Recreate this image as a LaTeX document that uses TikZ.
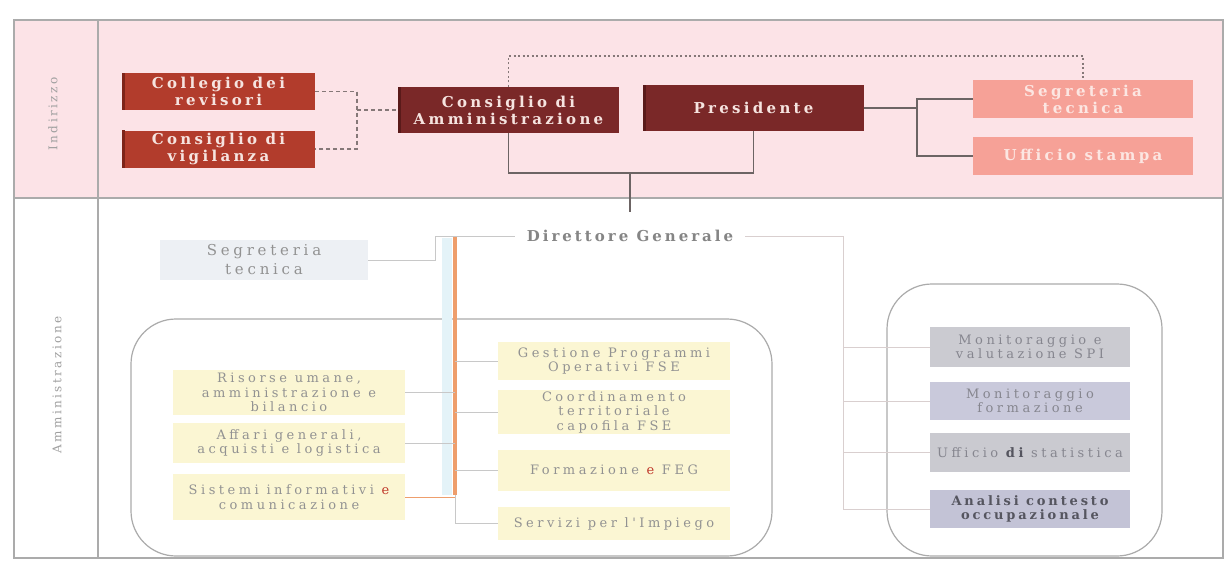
\documentclass[tikz,border=0pt]{standalone}
\usepackage{fontspec}
\setmainfont{DejaVu Serif}
\newfontfamily\wsp[LetterSpace=27]{DejaVu Serif}
\newfontfamily\wlab[LetterSpace=20]{DejaVu Serif}
\newfontfamily\wseg[LetterSpace=25]{DejaVu Serif}
\newfontfamily\wspb[LetterSpace=22]{DejaVu Serif}
\newfontfamily\wspd[LetterSpace=20]{DejaVu Serif}
\usetikzlibrary{calc}
\definecolor{cBand}{HTML}{FCE3E7}
\definecolor{cFrame}{HTML}{ABABAB}
\definecolor{cRust}{HTML}{B23C2C}
\definecolor{cRustEdge}{HTML}{7E2419}
\definecolor{cMaroon}{HTML}{7A2828}
\definecolor{cMaroonEdge}{HTML}{5A1A1A}
\definecolor{cSalmon}{HTML}{F6A197}
\definecolor{cTopTxt}{HTML}{F6E4E0}
\definecolor{cSalTxt}{HTML}{FCE6E2}
\definecolor{cLab}{HTML}{A0A0A0}
\definecolor{cBotTxt}{HTML}{929292}
\definecolor{cYellow}{HTML}{FBF6D3}
\definecolor{cSegB}{HTML}{EDF0F4}
\definecolor{cGrayA}{HTML}{CBCBD1}
\definecolor{cGrayB}{HTML}{C9C9DB}
\definecolor{cGrayC}{HTML}{CACAD0}
\definecolor{cGrayD}{HTML}{C3C3D6}
\definecolor{cRTxt}{HTML}{86868F}
\definecolor{cDark}{HTML}{55555F}
\definecolor{cRed}{HTML}{C0392B}
\definecolor{cOrange}{HTML}{EE9E6C}
\definecolor{cCyan}{HTML}{E4F3F8}
\definecolor{cLine}{HTML}{6C6464}
\definecolor{cLineB}{HTML}{857878}
\definecolor{cBot}{HTML}{C8C8C8}
\definecolor{cRline}{HTML}{D9CFCF}
\definecolor{cDirTxt}{HTML}{858585}
\begin{document}
\begin{tikzpicture}[x=1pt,y=-1pt,
  lab/.style={font=\wlab\fontsize{12}{14}\selectfont, text=cLab, rotate=90, inner sep=0pt},
  topbox/.style={text=cTopTxt, font=\wspb\bfseries\fontsize{15}{17}\selectfont, inner sep=0pt, align=center},
  rustbox/.style={topbox, fill=cRust, minimum width=193pt, minimum height=37pt},
  maroonbox/.style={topbox, fill=cMaroon, minimum width=220pt, minimum height=46pt},
  salbox/.style={topbox, fill=cSalmon, text=cSalTxt, minimum width=220pt, minimum height=38pt},
  botbox/.style={font=\wsp\fontsize{13}{14.5}\selectfont, text=cBotTxt, inner sep=0pt, align=center},
  yelbox/.style={botbox, fill=cYellow, minimum width=232pt},
  graybox/.style={botbox, text=cRTxt, minimum width=200pt},
  group/.style={draw=cFrame, line width=1.2pt, rounded corners=45pt},
  topline/.style={draw=cLine, line width=1.2pt},
  dashl/.style={draw=cLineB, line width=1.1pt, dash pattern=on 4pt off 3pt},
  dotl/.style={draw=cLineB, line width=1.3pt, dash pattern=on 2pt off 2.5pt},
  botline/.style={draw=cBot, line width=1pt},
  rline/.style={draw=cRline, line width=1pt},
  orline/.style={draw=cOrange, line width=1pt},
  orangebar/.style={draw=cOrange, line width=4pt}
]
\useasboundingbox (0,0) rectangle (1230,562);
\fill[white] (0,0) rectangle (1230,562);
\fill[cBand] (14,20) rectangle (1223,198);
\draw[cFrame, line width=1.2pt] (14,20) rectangle (1223,558);
\draw[cFrame, line width=1.2pt] (14,198) -- (1223,198);
\draw[cFrame, line width=1.2pt] (98,20) -- (98,558);

\node[lab] (lind) at (53,114) {Indirizzo};
\node[lab] (lamm) at (57,385) {Amministrazione};

% groups
\node[group, minimum width=641pt, minimum height=237pt] (grpL) at (451.5,437.5) {};
\node[group, minimum width=275pt, minimum height=272pt] (grpR) at (1024.5,420) {};

% top boxes
\node[rustbox] (coll) at (218.5,91.5) {Collegio dei\\revisori};
\node[rustbox] (vig) at (218.5,149) {Consiglio di\\vigilanza};
\node[maroonbox] (cons) at (508.5,110) {Consiglio di\\Amministrazione};
\node[maroonbox] (pres) at (753.5,108) {Presidente};
\node[salbox] (segtop) at (1083,99) {Segreteria\\tecnica};
\node[salbox] (uff) at (1083,156) {Ufficio stampa};
\fill[cRustEdge] (coll.north west) rectangle ([xshift=3pt]coll.south west);
\fill[cRustEdge] (vig.north west) rectangle ([xshift=3pt]vig.south west);
\fill[cMaroonEdge] (cons.north west) rectangle ([xshift=3pt]cons.south west);
\fill[cMaroonEdge] (pres.north west) rectangle ([xshift=3pt]pres.south west);

\coordinate (dj) at (357,110);
\coordinate (dtop) at (800,56);
\coordinate (jn) at (630,173);
\coordinate (jd) at (630,212);
\coordinate (pj) at (917,108);
\draw[dashl] (coll.east) -| (dj) |- (vig.east);
\draw[dashl] (dj) -- (cons.west);
\draw[dotl] (cons.north) |- (dtop) -| (segtop.north);
\draw[topline] (cons.south) |- (jn) -| (pres.south);
\draw[topline] (jn) -- (jd);
\draw[topline] (pres.east) -- (pj);
\draw[topline] (pj) |- (segtop.west);
\draw[topline] (pj) |- (uff.west);

% bottom
\fill[cCyan] (442,238) rectangle (452,495);
\node[botbox, fill=cSegB, minimum width=208pt, minimum height=40pt, font=\wseg\fontsize{15}{19}\selectfont] (segb) at (264,260) {Segreteria\\tecnica};
\node[font=\wspd\bfseries\fontsize{15}{17}\selectfont, text=cDirTxt, inner sep=12pt] (dir) at (630,236) {Direttore Generale};

\node[yelbox, minimum height=45pt] (ly1) at (289,392.5) {Risorse umane,\\amministrazione e\\bilancio};
\node[yelbox, minimum height=40pt] (ly2) at (289,443) {Affari generali,\\acquisti e logistica};
\node[yelbox, minimum height=46pt] (ly3) at (289,497) {Sistemi informativi \textcolor{cRed}{e}\\comunicazione};

\node[yelbox, minimum height=38pt] (my1) at (614,361) {Gestione Programmi\\Operativi FSE};
\node[yelbox, minimum height=44pt] (my2) at (614,412) {Coordinamento\\territoriale\\capofila FSE};
\node[yelbox, minimum height=41pt] (my3) at (614,470) {Formazione \textcolor{cRed}{e} FEG};
\node[yelbox, minimum height=33pt] (my4) at (614,523.5) {Servizi per l'Impiego};

\node[graybox, fill=cGrayA, minimum height=40pt] (rb1) at (1030,347) {Monitoraggio e\\valutazione SPI};
\node[graybox, fill=cGrayB, minimum height=38pt] (rb2) at (1030,401) {Monitoraggio\\formazione};
\node[graybox, fill=cGrayC, minimum height=39pt] (rb3) at (1030,452.5) {Ufficio {\color{cDark}\bfseries di} statistica};
\node[graybox, fill=cGrayD, minimum height=38pt, text=cDark, font=\wspb\bfseries\fontsize{13}{14.5}\selectfont] (rb4) at (1030,509) {Analisi contesto\\occupazionale};

\coordinate (sj) at (435,236);
\coordinate (bt) at (455,237);
\coordinate (bb) at (455,495);
\coordinate (rbus) at (843,509);
\draw[botline] (segb.east) -| (sj) -- (dir.west);
\draw[orangebar] (bt) -- (bb);
\draw[botline] (ly1.east) -- (ly1.east -| bt);
\draw[botline] (ly2.east) -- (ly2.east -| bt);
\draw[orline] (ly3.east) -- (ly3.east -| bt);
\draw[botline] (my1.west -| bt) -- (my1.west);
\draw[botline] (my2.west -| bt) -- (my2.west);
\draw[botline] (my3.west -| bt) -- (my3.west);
\draw[botline] (bb) |- (my4.west);
\draw[rline] (dir.east) -| (rbus) -- (rb4.west);
\draw[rline] (rbus |- rb1.west) -- (rb1.west);
\draw[rline] (rbus |- rb2.west) -- (rb2.west);
\draw[rline] (rbus |- rb3.west) -- (rb3.west);
\end{tikzpicture}
\end{document}
